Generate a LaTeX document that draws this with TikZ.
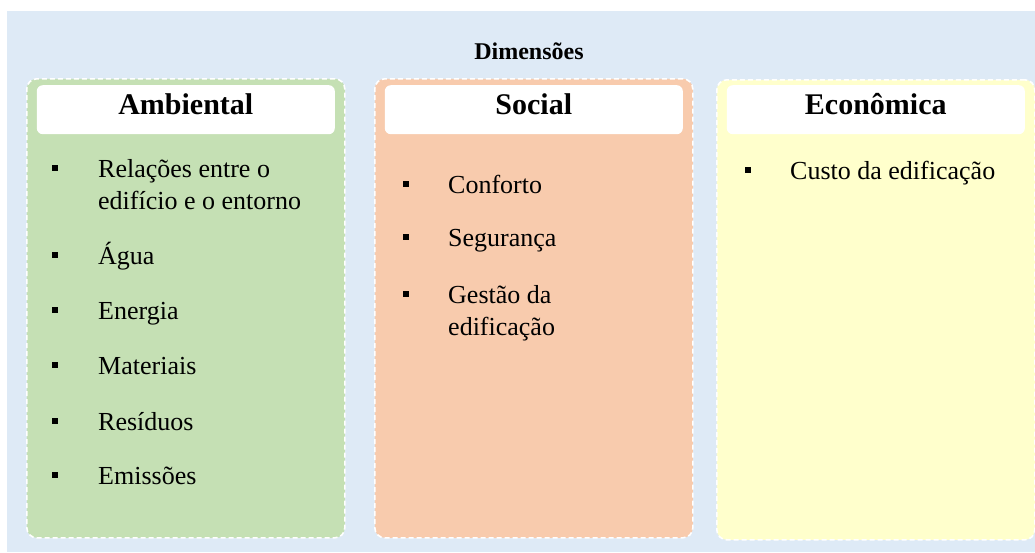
\documentclass[tikz,border=0pt]{standalone}
\usepackage{fontspec}
\setmainfont{Liberation Serif}
\usetikzlibrary{positioning}
\definecolor{dimbg}{HTML}{DEEAF6}
\definecolor{ambgreen}{HTML}{C5E0B4}
\definecolor{socorange}{HTML}{F8CBAD}
\definecolor{ecoyellow}{HTML}{FFFFCC}

\begin{document}
\begin{tikzpicture}[
    x=1pt, y=-1pt,
    dimbox/.style={
        draw=white, dash pattern=on 5pt off 3pt, line width=1.6pt,
        rounded corners=10pt, inner sep=0pt, anchor=north west,
        minimum width=318pt, minimum height=459pt
    },
    headbox/.style={
        fill=white, rectangle, rounded corners=6pt, inner sep=0pt,
        minimum width=298pt, minimum height=49pt,
        text height=21pt, text depth=11pt,
        font=\fontsize{30}{30}\selectfont\bfseries
    },
    itemtext/.style={
        anchor=base west, inner sep=0pt, align=left,
        font=\fontsize{26}{32}\selectfont
    },
    bullet/.style={fill=black, rectangle, minimum size=6.5pt, inner sep=0pt},
]

\useasboundingbox (0,0) rectangle (1035,552);
\fill[dimbg] (7,11) rectangle (1035,552);
\node[anchor=base, font=\fontsize{24}{24}\selectfont\bfseries] (title) at (529,59) {Dimensões};

% the three dimensions
\node[dimbox, fill=ambgreen] (amb) at (26,78) {};
\node[dimbox, fill=socorange] (soc) at (374,78) {};
\node[dimbox, fill=ecoyellow, minimum height=460pt] (eco) at (716,79) {};

\node[headbox, below=7pt of amb.north] (ambhead) {Ambiental};
\node[headbox, below=7pt of soc.north] (sochead) {Social};
\node[headbox, below=6pt of eco.north] (ecohead) {Econômica};

% Ambiental (two-line items are placed by their last baseline)
\node[bullet] (amb1b) at (55,168) {};
\node[itemtext] (amb1) at (98,209) {Relações entre o\\edifício e o entorno};
\node[bullet] (amb2b) at (55,255) {};
\node[itemtext] (amb2) at (98,264) {Água};
\node[bullet] (amb3b) at (55,310) {};
\node[itemtext] (amb3) at (98,319) {Energia};
\node[bullet] (amb4b) at (55,365) {};
\node[itemtext] (amb4) at (98,374) {Materiais};
\node[bullet] (amb5b) at (55,421) {};
\node[itemtext] (amb5) at (98,430) {Resíduos};
\node[bullet] (amb6b) at (55,475) {};
\node[itemtext] (amb6) at (98,484) {Emissões};

% Social
\node[bullet] (soc1b) at (406,184) {};
\node[itemtext] (soc1) at (448,193) {Conforto};
\node[bullet] (soc2b) at (406,237) {};
\node[itemtext] (soc2) at (448,246) {Segurança};
\node[bullet] (soc3b) at (406,294) {};
\node[itemtext] (soc3) at (448,335) {Gestão da\\edificação};

% Economica
\node[bullet] (eco1b) at (748,170) {};
\node[itemtext] (eco1) at (790,179) {Custo da edificação};
\end{tikzpicture}
\end{document}
